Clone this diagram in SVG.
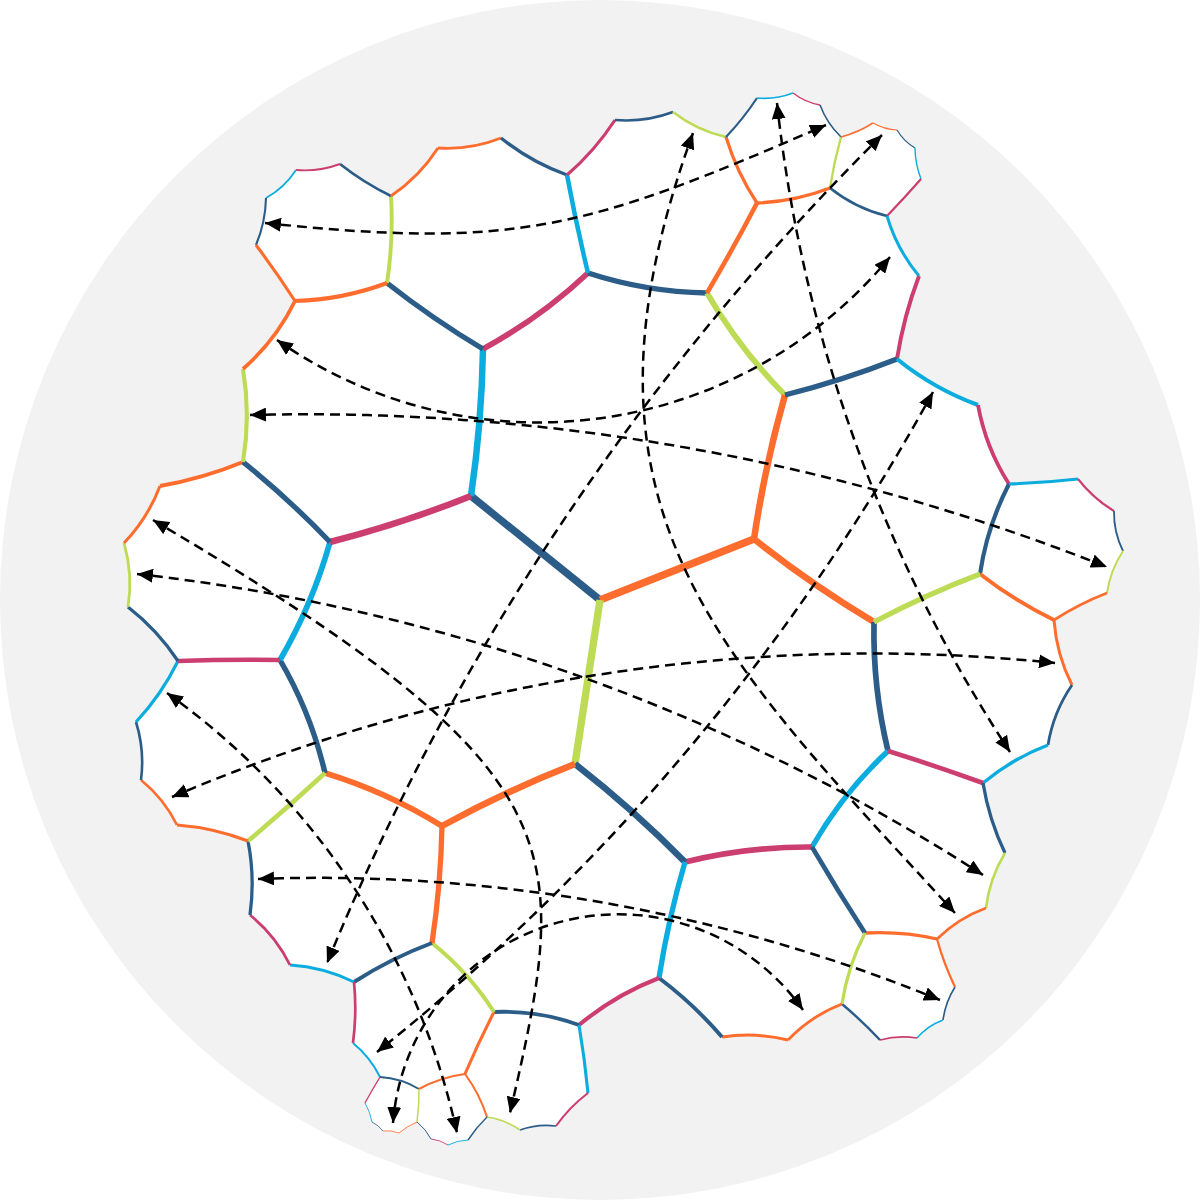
<svg xmlns="http://www.w3.org/2000/svg" width="1200" height="1200" viewBox="0 0 1200 1200">
<defs>
<style>
.cell{fill:#ffffff;stroke:none}
.e{fill:none;stroke-linejoin:round}
.db{stroke:#2b5d88}
.cy{stroke:#0cadde}
.mg{stroke:#cc3d70}
.or{stroke:#ff6d2e}
.lm{stroke:#bedb56}
.dl{fill:none;stroke:#000;stroke-width:2.5;stroke-dasharray:10 6;marker-start:url(#ah);marker-end:url(#ah)}
</style>
<marker id="ah" viewBox="0 0 16 14" refX="16" refY="7" markerWidth="16" markerHeight="14" markerUnits="userSpaceOnUse" orient="auto-start-reverse">
<path d="M0,0 L16,7 L0,14 Z" fill="#000"/>
</marker>
</defs>
<rect width="1200" height="1200" fill="#ffffff"/>
<circle cx="600" cy="600" r="600" fill="#f2f2f2"/>
<g id="cells">
<g id="cell-0"><path class="cell" d="M471,496 Q481.7,422.9 483,349 Q540.4,317.8 588,273 Q646,291.9 707,293 Q739.5,349 785,395 Q764.8,466 754,539 Q677,569.5 600,600 Q535.5,548 471,496Z"/></g>
<g id="cell-1"><path class="cell" d="M330,542 Q402,523.6 471,496 Q535.5,548 600,600 Q587.5,682 575,764 Q506.5,790.7 442,826 Q386.9,792 325,773 Q311,713.1 280,660 Q312.5,604.2 330,542Z"/></g>
<g id="cell-2"><path class="cell" d="M600,600 Q677,569.5 754,539 Q811.3,584.3 874,622 Q872.7,687.4 888,751 Q842.7,793.2 812,847 Q747.5,846.5 685,862 Q633.2,809.4 575,764 Q587.5,682 600,600Z"/></g>
<g id="cell-3"><path class="cell" d="M483,349 Q432.9,319.1 387,283 Q342.5,299.7 295,301 Q275.9,340.2 243,369 Q250.8,415.5 243,462 Q289.1,499.1 330,542 Q402,523.6 471,496 Q481.7,422.9 483,349Z"/></g>
<g id="cell-4"><path class="cell" d="M387,283 Q393.6,239.7 391,196 Q419.4,176.8 438,148 Q470.6,150.1 501,138 Q530.9,162.1 567,175 Q576.2,224.3 588,273 Q540.4,317.8 483,349 Q432.9,319.1 387,283Z"/></g>
<g id="cell-5"><path class="cell" d="M391,196 Q363.8,182.8 340,164 Q318.7,171.9 296,170 Q284.5,187.8 266,198 Q265.5,222.5 256,245 Q276.5,272.3 295,301 Q342.5,299.7 387,283 Q393.6,239.7 391,196Z"/></g>
<g id="cell-6"><path class="cell" d="M588,273 Q576.2,224.3 567,175 Q594.9,150.9 615,120 Q644.9,122.5 673,112 Q696.7,130.4 726,137 Q736.7,172.3 757,203 Q733.2,248.6 707,293 Q646,291.9 588,273Z"/></g>
<g id="cell-7"><path class="cell" d="M726,137 Q743.2,118.9 757,98 Q775.6,99.7 793,93 Q805.1,102.3 820,105 Q826.9,123.4 841,137 Q833.9,162.2 830,188 Q794.8,201.6 757,203 Q736.7,172.3 726,137Z"/></g>
<g id="cell-8"><path class="cell" d="M707,293 Q733.2,248.6 757,203 Q794.8,201.6 830,188 Q855.4,208.3 887,216 Q896.8,249.3 919,276 Q903.7,316.4 897,359 Q842.2,380.6 785,395 Q739.5,349 707,293Z"/></g>
<g id="cell-9"><path class="cell" d="M830,188 Q833.9,162.2 841,137 Q858.1,132.5 873,123 Q884.1,129.4 897,130 Q903.7,141.3 915,148 Q915.2,164 921,179 Q904.4,197.9 887,216 Q855.4,208.3 830,188Z"/></g>
<g id="cell-10"><path class="cell" d="M785,395 Q842.2,380.6 897,359 Q933.7,388.8 978,405 Q985.7,447.6 1009,484 Q987,526.6 980,574 Q925.5,594.8 874,622 Q811.3,584.3 754,539 Q764.8,466 785,395Z"/></g>
<g id="cell-11"><path class="cell" d="M980,574 Q987,526.6 1009,484 Q1043.6,482.9 1078,479 Q1093,498.4 1114,511 Q1113.6,532.1 1123,551 Q1110.3,570.2 1107,593 Q1079.1,603.8 1054,620 Q1014.6,600.9 980,574Z"/></g>
<g id="cell-12"><path class="cell" d="M874,622 Q925.5,594.8 980,574 Q1014.6,600.9 1054,620 Q1056.4,654.3 1072,685 Q1053.3,712.3 1048,745 Q1012.4,758.6 983,783 Q935.9,765.9 888,751 Q872.7,687.4 874,622Z"/></g>
<g id="cell-13"><path class="cell" d="M888,751 Q935.9,765.9 983,783 Q988.9,819.6 1005,853 Q989.5,878.4 986,908 Q958.1,918.2 937,939 Q901.4,930.9 865,933 Q837.5,890.6 812,847 Q842.7,793.2 888,751Z"/></g>
<g id="cell-14"><path class="cell" d="M865,933 Q901.4,930.9 937,939 Q943.8,963.8 955,987 Q945.4,1002.2 943,1020 Q927.7,1025.7 917,1038 Q898.3,1035 880,1040 Q862.1,1020.9 842,1004 Q847.6,966.6 865,933Z"/></g>
<g id="cell-15"><path class="cell" d="M685,862 Q747.5,846.5 812,847 Q837.5,890.6 865,933 Q847.6,966.6 842,1004 Q811,1015.9 788,1040 Q755.3,1032 722,1037 Q693.7,1004 659,978 Q668.2,919.1 685,862Z"/></g>
<g id="cell-16"><path class="cell" d="M575,764 Q633.2,809.4 685,862 Q668.2,919.1 659,978 Q615.1,994.9 579,1025 Q537.8,1010 494,1012 Q468.7,972.4 432,943 Q440.8,884.8 442,826 Q506.5,790.7 575,764Z"/></g>
<g id="cell-17"><path class="cell" d="M494,1012 Q537.8,1010 579,1025 Q584.7,1058.8 588,1093 Q569.5,1107 556,1126 Q537.5,1123.6 520,1130 Q505.1,1119.5 487,1117 Q479.5,1093.7 465,1074 Q478.4,1042.5 494,1012Z"/></g>
<g id="cell-18"><path class="cell" d="M432,943 Q468.7,972.4 494,1012 Q478.4,1042.5 465,1074 Q440.6,1077.1 419,1089 Q401,1078.2 380,1077 Q370.2,1057.1 353,1043 Q357,1012.6 354,982 Q390.9,958.3 432,943Z"/></g>
<g id="cell-19"><path class="cell" d="M419,1089 Q440.6,1077.1 465,1074 Q479.5,1093.7 487,1117 Q476.2,1127.5 468,1140 Q457.4,1140.3 448,1145 Q440.3,1139.9 431,1139 Q425.9,1129 417,1122 Q419.2,1105.6 419,1089Z"/></g>
<g id="cell-20"><path class="cell" d="M380,1077 Q401,1078.2 419,1089 Q419.2,1105.6 417,1122 Q407.1,1126 399,1133 Q391.3,1129.9 383,1131 Q378.6,1125.2 372,1122 Q370.2,1111.9 365,1103 Q372.2,1089.8 380,1077Z"/></g>
<g id="cell-21"><path class="cell" d="M442,826 Q440.8,884.8 432,943 Q390.9,958.3 354,982 Q323.7,967.1 290,965 Q275.6,935.6 250,915 Q255.2,877.8 248,841 Q287.3,808 325,773 Q386.9,792 442,826Z"/></g>
<g id="cell-22"><path class="cell" d="M280,660 Q311,713.1 325,773 Q287.3,808 248,841 Q213.7,827.8 177,825 Q163.9,798.6 141,780 Q144.9,750.5 136,722 Q161.6,694.6 178,661 Q229,659.2 280,660Z"/></g>
<g id="cell-23"><path class="cell" d="M330,542 Q312.5,604.2 280,660 Q229,659.2 178,661 Q157.4,629.9 128,607 Q133.2,574.6 124,543 Q147.8,518.2 160,486 Q202.8,478.5 243,462 Q289.1,499.1 330,542Z"/></g>
</g>
<g id="edges">
<path class="e db" stroke-width="7.4" d="M471,496 Q535.5,548 600,600"/>
<path class="e or" stroke-width="7.4" d="M600,600 Q677,569.5 754,539"/>
<path class="e lm" stroke-width="7.4" d="M600,600 Q587.5,682 575,764"/>
<path class="e cy" stroke-width="6.5" d="M471,496 Q481.7,422.9 483,349"/>
<path class="e mg" stroke-width="5.7" d="M483,349 Q540.4,317.8 588,273"/>
<path class="e db" stroke-width="5.4" d="M588,273 Q646,291.9 707,293"/>
<path class="e lm" stroke-width="5.7" d="M707,293 Q739.5,349 785,395"/>
<path class="e or" stroke-width="6.5" d="M785,395 Q764.8,466 754,539"/>
<path class="e or" stroke-width="6.5" d="M754,539 Q811.3,584.3 874,622"/>
<path class="e db" stroke-width="5.7" d="M874,622 Q872.7,687.4 888,751"/>
<path class="e cy" stroke-width="5.4" d="M888,751 Q842.7,793.2 812,847"/>
<path class="e mg" stroke-width="5.7" d="M812,847 Q747.5,846.5 685,862"/>
<path class="e db" stroke-width="6.5" d="M685,862 Q633.2,809.4 575,764"/>
<path class="e or" stroke-width="6.5" d="M575,764 Q506.5,790.7 442,826"/>
<path class="e or" stroke-width="5.7" d="M442,826 Q386.9,792 325,773"/>
<path class="e db" stroke-width="5.4" d="M325,773 Q311,713.1 280,660"/>
<path class="e cy" stroke-width="5.7" d="M280,660 Q312.5,604.2 330,542"/>
<path class="e mg" stroke-width="6.5" d="M330,542 Q402,523.6 471,496"/>
<path class="e db" stroke-width="5.25" d="M483,349 Q432.9,319.1 387,283"/>
<path class="e lm" stroke-width="3.9" d="M387,283 Q393.6,239.7 391,196"/>
<path class="e or" stroke-width="4.1" d="M387,283 Q342.5,299.7 295,301"/>
<path class="e db" stroke-width="2.7" d="M391,196 Q363.8,182.8 340,164"/>
<path class="e mg" stroke-width="1.9" d="M340,164 Q318.7,171.9 296,170"/>
<path class="e cy" stroke-width="1.8" d="M296,170 Q284.5,187.8 266,198"/>
<path class="e db" stroke-width="2.1" d="M266,198 Q265.5,222.5 256,245"/>
<path class="e or" stroke-width="3.1" d="M256,245 Q276.5,272.3 295,301"/>
<path class="e or" stroke-width="3" d="M391,196 Q419.4,176.8 438,148"/>
<path class="e or" stroke-width="2.8" d="M438,148 Q470.6,150.1 501,138"/>
<path class="e db" stroke-width="3.3" d="M501,138 Q530.9,162.1 567,175"/>
<path class="e cy" stroke-width="4.5" d="M567,175 Q576.2,224.3 588,273"/>
<path class="e mg" stroke-width="3.2" d="M567,175 Q594.9,150.9 615,120"/>
<path class="e db" stroke-width="2.6" d="M615,120 Q644.9,122.5 673,112"/>
<path class="e lm" stroke-width="2.6" d="M673,112 Q696.7,130.4 726,137"/>
<path class="e or" stroke-width="3.2" d="M726,137 Q736.7,172.3 757,203"/>
<path class="e or" stroke-width="4.6" d="M757,203 Q733.2,248.6 707,293"/>
<path class="e db" stroke-width="2.2" d="M726,137 Q743.2,118.9 757,98"/>
<path class="e cy" stroke-width="1.6" d="M757,98 Q775.6,99.7 793,93"/>
<path class="e mg" stroke-width="1.4" d="M793,93 Q805.1,102.3 820,105"/>
<path class="e db" stroke-width="1.6" d="M820,105 Q826.9,123.4 841,137"/>
<path class="e lm" stroke-width="2.4" d="M841,137 Q833.9,162.2 830,188"/>
<path class="e or" stroke-width="3.3" d="M830,188 Q794.8,201.6 757,203"/>
<path class="e or" stroke-width="1.5" d="M841,137 Q858.1,132.5 873,123"/>
<path class="e or" stroke-width="1.2" d="M873,123 Q884.1,129.4 897,130"/>
<path class="e db" stroke-width="1.2" d="M897,130 Q903.7,141.3 915,148"/>
<path class="e cy" stroke-width="1.4" d="M915,148 Q915.2,164 921,179"/>
<path class="e mg" stroke-width="2.2" d="M921,179 Q904.4,197.9 887,216"/>
<path class="e db" stroke-width="2.8" d="M887,216 Q855.4,208.3 830,188"/>
<path class="e cy" stroke-width="3" d="M887,216 Q896.8,249.3 919,276"/>
<path class="e mg" stroke-width="3.9" d="M919,276 Q903.7,316.4 897,359"/>
<path class="e db" stroke-width="5.25" d="M897,359 Q842.2,380.6 785,395"/>
<path class="e cy" stroke-width="4.1" d="M897,359 Q933.7,388.8 978,405"/>
<path class="e mg" stroke-width="3.8" d="M978,405 Q985.7,447.6 1009,484"/>
<path class="e db" stroke-width="4.15" d="M1009,484 Q987,526.6 980,574"/>
<path class="e cy" stroke-width="3.1" d="M1009,484 Q1043.6,482.9 1078,479"/>
<path class="e mg" stroke-width="2.1" d="M1078,479 Q1093,498.4 1114,511"/>
<path class="e db" stroke-width="1.8" d="M1114,511 Q1113.6,532.1 1123,551"/>
<path class="e lm" stroke-width="2" d="M1123,551 Q1110.3,570.2 1107,593"/>
<path class="e or" stroke-width="2.7" d="M1107,593 Q1079.1,603.8 1054,620"/>
<path class="e or" stroke-width="3.9" d="M1054,620 Q1014.6,600.9 980,574"/>
<path class="e lm" stroke-width="5.3" d="M980,574 Q925.5,594.8 874,622"/>
<path class="e or" stroke-width="3" d="M1054,620 Q1056.4,654.3 1072,685"/>
<path class="e db" stroke-width="2.8" d="M1072,685 Q1053.3,712.3 1048,745"/>
<path class="e cy" stroke-width="3.3" d="M1048,745 Q1012.4,758.6 983,783"/>
<path class="e mg" stroke-width="4.6" d="M983,783 Q935.9,765.9 888,751"/>
<path class="e db" stroke-width="3.3" d="M983,783 Q988.9,819.6 1005,853"/>
<path class="e lm" stroke-width="2.6" d="M1005,853 Q989.5,878.4 986,908"/>
<path class="e or" stroke-width="2.6" d="M986,908 Q958.1,918.2 937,939"/>
<path class="e or" stroke-width="3.3" d="M937,939 Q901.4,930.9 865,933"/>
<path class="e db" stroke-width="4.6" d="M865,933 Q837.5,890.6 812,847"/>
<path class="e or" stroke-width="2.3" d="M937,939 Q943.8,963.8 955,987"/>
<path class="e db" stroke-width="1.6" d="M955,987 Q945.4,1002.2 943,1020"/>
<path class="e cy" stroke-width="1.4" d="M943,1020 Q927.7,1025.7 917,1038"/>
<path class="e mg" stroke-width="1.6" d="M917,1038 Q898.3,1035 880,1040"/>
<path class="e db" stroke-width="2.4" d="M880,1040 Q862.1,1020.9 842,1004"/>
<path class="e lm" stroke-width="3.3" d="M842,1004 Q847.6,966.6 865,933"/>
<path class="e or" stroke-width="2.8" d="M842,1004 Q811,1015.9 788,1040"/>
<path class="e or" stroke-width="3" d="M788,1040 Q755.3,1032 722,1037"/>
<path class="e db" stroke-width="3.9" d="M722,1037 Q693.7,1004 659,978"/>
<path class="e cy" stroke-width="5.3" d="M659,978 Q668.2,919.1 685,862"/>
<path class="e mg" stroke-width="4.1" d="M659,978 Q615.1,994.9 579,1025"/>
<path class="e db" stroke-width="3.8" d="M579,1025 Q537.8,1010 494,1012"/>
<path class="e cy" stroke-width="3.1" d="M579,1025 Q584.7,1058.8 588,1093"/>
<path class="e mg" stroke-width="2.1" d="M588,1093 Q569.5,1107 556,1126"/>
<path class="e db" stroke-width="1.6" d="M556,1126 Q537.5,1123.6 520,1130"/>
<path class="e lm" stroke-width="1.6" d="M520,1130 Q505.1,1119.5 487,1117"/>
<path class="e or" stroke-width="2.1" d="M487,1117 Q479.5,1093.7 465,1074"/>
<path class="e or" stroke-width="3.1" d="M465,1074 Q478.4,1042.5 494,1012"/>
<path class="e lm" stroke-width="4.1" d="M494,1012 Q468.7,972.4 432,943"/>
<path class="e or" stroke-width="5.3" d="M432,943 Q440.8,884.8 442,826"/>
<path class="e db" stroke-width="3.9" d="M432,943 Q390.9,958.3 354,982"/>
<path class="e cy" stroke-width="3" d="M354,982 Q323.7,967.1 290,965"/>
<path class="e mg" stroke-width="2.8" d="M290,965 Q275.6,935.6 250,915"/>
<path class="e db" stroke-width="3.3" d="M250,915 Q255.2,877.8 248,841"/>
<path class="e lm" stroke-width="4.6" d="M248,841 Q287.3,808 325,773"/>
<path class="e or" stroke-width="3.2" d="M248,841 Q213.7,827.8 177,825"/>
<path class="e or" stroke-width="2.6" d="M177,825 Q163.9,798.6 141,780"/>
<path class="e db" stroke-width="2.6" d="M141,780 Q144.9,750.5 136,722"/>
<path class="e cy" stroke-width="3.2" d="M136,722 Q161.6,694.6 178,661"/>
<path class="e mg" stroke-width="4.6" d="M178,661 Q229,659.2 280,660"/>
<path class="e db" stroke-width="3.3" d="M178,661 Q157.4,629.9 128,607"/>
<path class="e lm" stroke-width="2.8" d="M128,607 Q133.2,574.6 124,543"/>
<path class="e or" stroke-width="3" d="M124,543 Q147.8,518.2 160,486"/>
<path class="e or" stroke-width="3.9" d="M160,486 Q202.8,478.5 243,462"/>
<path class="e db" stroke-width="5.25" d="M243,462 Q289.1,499.1 330,542"/>
<path class="e lm" stroke-width="4.1" d="M243,462 Q250.8,415.5 243,369"/>
<path class="e or" stroke-width="3.75" d="M243,369 Q275.9,340.2 295,301"/>
<path class="e mg" stroke-width="2.7" d="M354,982 Q357,1012.6 353,1043"/>
<path class="e cy" stroke-width="2" d="M353,1043 Q370.2,1057.1 380,1077"/>
<path class="e db" stroke-width="1.8" d="M380,1077 Q401,1078.2 419,1089"/>
<path class="e or" stroke-width="2.15" d="M419,1089 Q440.6,1077.1 465,1074"/>
<path class="e lm" stroke-width="1.5" d="M419,1089 Q419.2,1105.6 417,1122"/>
<path class="e db" stroke-width="1" d="M417,1122 Q425.9,1129 431,1139"/>
<path class="e mg" stroke-width="0.9" d="M431,1139 Q440.3,1139.9 448,1145"/>
<path class="e cy" stroke-width="0.95" d="M448,1145 Q457.4,1140.3 468,1140"/>
<path class="e db" stroke-width="1.4" d="M468,1140 Q476.2,1127.5 487,1117"/>
<path class="e mg" stroke-width="1.4" d="M380,1077 Q372.2,1089.8 365,1103"/>
<path class="e cy" stroke-width="0.9" d="M365,1103 Q370.2,1111.9 372,1122"/>
<path class="e db" stroke-width="0.8" d="M372,1122 Q378.6,1125.2 383,1131"/>
<path class="e or" stroke-width="0.8" d="M383,1131 Q391.3,1129.9 399,1133"/>
<path class="e or" stroke-width="0.9" d="M399,1133 Q407.1,1126 417,1122"/>
</g>
<g id="connectors">
<path class="dl" d="M265,223 C515.9,249.5 587.1,229.2 826,125"/>
<path class="dl" d="M277,340 A456,456 0 0 0 890,257"/>
<path class="dl" d="M250,415 A2174,2174 0 0 1 1107,567"/>
<path class="dl" d="M693,133 C557,506.7 714.9,651.2 955,913"/>
<path class="dl" d="M777,103 A1470,1470 0 0 0 1010,752"/>
<path class="dl" d="M882,135 A2509,2509 0 0 0 327,963"/>
<path class="dl" d="M933,392 A2186,2186 0 0 1 377,1052"/>
<path class="dl" d="M167,693 A733,733 0 0 1 457,1133"/>
<path class="dl" d="M153,520 C580,772.4 572.3,843.3 510,1113"/>
<path class="dl" d="M137,574 A1964,1964 0 0 1 983,875"/>
<path class="dl" d="M172,797 A1778,1778 0 0 1 1055,663"/>
<path class="dl" d="M258,879 A1639,1639 0 0 1 940,1000"/>
<path class="dl" d="M393,1123 A226,226 0 0 1 803,1010"/>
</g>
</svg>
